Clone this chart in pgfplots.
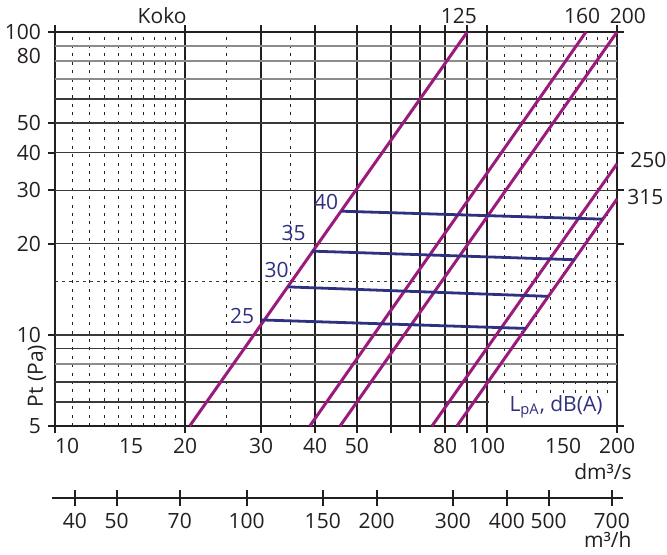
\documentclass[border=0pt]{standalone}
\usepackage{fontspec}
\setmainfont{Open Sans}
\usepackage{pgfplots}
\pgfplotsset{compat=1.18}
\definecolor{mag}{HTML}{9A1B7C}
\definecolor{nav}{HTML}{2E3080}
\definecolor{ink}{HTML}{231F20}
\definecolor{dk}{HTML}{3A3A3A}
\definecolor{gr}{HTML}{8C8C8C}
\begin{document}
\begin{tikzpicture}[font=\fontsize{10.5}{12.5}\selectfont]
\begin{axis}[
  at={(0,0)}, anchor=south west, scale only axis,
  width=281pt, height=197pt,
  xmode=log, ymode=log, xmin=10, xmax=200, ymin=5, ymax=100,
  clip=false,
  axis line style={ink, line width=1.2pt},
  tick style={ink, line width=1pt},
  tick align=outside, major tick length=3.5pt, minor tick length=0pt,
  xtick={10,20,30,40,50,60,70,80,90,100,200},
  xticklabels={\hphantom{00}10,20,30,40,50,,,80,,100,200},
  extra x ticks={15,150}, extra x tick labels={15,150},
  extra x tick style={major tick length=0pt, xticklabel style={yshift=-3.5pt}},
  ytick={5,10,20,30,40,50,100},
  yticklabels={5,10,20,30,40,50,100},
  extra y ticks={80}, extra y tick labels={80},
  extra y tick style={major tick length=0pt, yticklabel style={xshift=-3.5pt, yshift=2.5pt}},
  ticklabel style={font=\fontsize{10.5}{12.5}\selectfont, text=ink},
  xticklabel style={yshift=1pt},
  ylabel={Pt (Pa)},
  ylabel style={at={(axis description cs:-0.032,0.127)}, anchor=center, font=\fontsize{10.5}{12.5}\selectfont, text=ink},
]
% vertical dotted grid
\pgfplotsinvokeforeach{11,12,13,14,15,16,17,18,19,25,35}{
  \draw[ink, line width=0.5pt, dash pattern=on 1.5pt off 2.7pt] (axis cs:#1,5) -- (axis cs:#1,100);
}
\pgfplotsinvokeforeach{110,120,130,140,150,160,170,180,190}{
  \draw[ink, line width=0.5pt, dash pattern=on 1.5pt off 2.7pt] (axis cs:#1,6.45) -- (axis cs:#1,100);
}
% vertical solid grid
\pgfplotsinvokeforeach{20,30,40,50,60,70,80,90,100}{
  \draw[ink, line width=1pt] (axis cs:#1,5) -- (axis cs:#1,100);
}
% horizontal grid
\pgfplotsinvokeforeach{60,50,40,30,20,10,9,7}{
  \draw[dk, line width=0.75pt] (axis cs:10,#1) -- (axis cs:200,#1);
}
\draw[dk, line width=0.75pt] (axis cs:10,6) -- (axis cs:101,6);
\pgfplotsinvokeforeach{90,80,70,8}{
  \draw[gr, line width=1pt] (axis cs:10,#1) -- (axis cs:200,#1);
}
\draw[dk, line width=0.6pt, dash pattern=on 1.5pt off 2pt] (axis cs:10,15) -- (axis cs:200,15);

% duct lines
\addplot[mag, line width=1.5pt] coordinates {(20.5,5) (90,100)};
\addplot[mag, line width=1.5pt] coordinates {(38.9,5) (169.5,100)};
\addplot[mag, line width=1.5pt] coordinates {(45.7,5) (200,100)};
\addplot[mag, line width=1.5pt] coordinates {(74.6,5) (200,36.7)};
\addplot[mag, line width=1.5pt] coordinates {(85.2,5) (200,28.1)};

% sound level lines
\addplot[nav, line width=1.4pt] coordinates {(30.1,11.2) (123,10.5)};
\addplot[nav, line width=1.4pt] coordinates {(34.6,14.4) (138.4,13.4)};
\addplot[nav, line width=1.4pt] coordinates {(39.3,18.9) (160,17.7)};
\addplot[nav, line width=1.4pt] coordinates {(46.0,25.6) (185.6,24.1)};

% labels
\node[text=ink] at (axis cs:17.7,113) {Koko};
\node[text=ink] at (axis cs:86.1,113) {125};
\node[text=ink] at (axis cs:166,113) {160};
\node[text=ink] at (axis cs:212,113) {200};
\node[text=ink, anchor=west, inner sep=0pt] at (axis cs:214.3,37.8) {250};
\node[text=ink, anchor=west, inner sep=0pt] at (axis cs:211,28.5) {315};
\node[text=nav] at (axis cs:42.4,27.5) {40};
\node[text=nav] at (axis cs:35.7,21.7) {35};
\node[text=nav] at (axis cs:32.6,16.4) {30};
\node[text=nav] at (axis cs:27.1,11.56) {25};
\node[text=nav] at (axis cs:144.5,5.79) {L\textsubscript{pA}, dB(A)};
\node[text=ink] at (axis cs:185.6,3.53) {dm³/s};
\node[text=ink] at (axis cs:190.5,2.105) {m³/h};
\end{axis}
\begin{axis}[
  at={(0,-36pt)}, anchor=south west, scale only axis,
  width=281pt, height=1pt,
  xmode=log, xmin=36, xmax=720, ymin=0, ymax=1,
  axis y line=none, axis x line*=bottom,
  x axis line style={-, ink, line width=1.1pt, shorten <=-1.5pt, shorten >=-3pt},
  tick style={ink, line width=1pt},
  tick align=center, major tick length=8pt, minor tick length=0pt,
  xtick={40,50,70,100,150,200,300,400,500,700},
  xticklabels={40,50,70,100,150,200,300,400,500,700},
  ticklabel style={font=\fontsize{10.5}{12.5}\selectfont, text=ink},
]
\end{axis}
\pgfresetboundingbox
\useasboundingbox (-27.5pt,-64pt) rectangle (306pt,213pt);
\end{tikzpicture}
\end{document}
